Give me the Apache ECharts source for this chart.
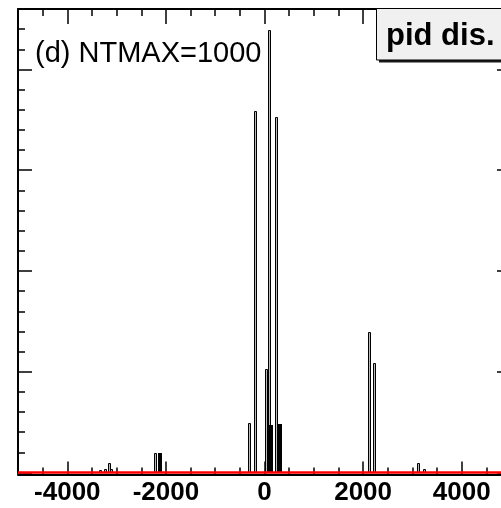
<!DOCTYPE html>
<html><head><meta charset="utf-8">
<script src="https://cdn.jsdelivr.net/npm/echarts@6/dist/echarts.min.js"></script>
<style>html,body{margin:0;padding:0;overflow:hidden;background:#fff;width:501px;height:508px}#c{width:530px;height:508px}</style>
</head><body><div id="c"></div>
<script>
// ---- data ----
const xMin = -5000, xMax = 5000;
const xMajorTicks = [-4000, -2000, 0, 2000, 4000];
const xMinorStep = 500;
const yMin = 0, yMax = 460;
const yMajorStep = 100;
const yMinorStep = 20;
// [pid bin, entries] — isolated bins (drawn as hollow spikes)
const hollowBins = [
  [-3325, 2], [-3223, 3], [-3148, 9], [-3101, 3],
  [-2209, 19],
  [-305, 49], [-190, 359], [41, 103], [105, 439], [237, 353],
  [2122, 139], [2238, 109],
  [3130, 9], [3243, 3]
];
// adjacent filled bins (appear solid)
const solidBins = [[-2117, 19], [146, 47], [315, 48]];
const zeroLine = [[xMin, 0], [xMax, 0]];
const panelLabel = '(d) NTMAX=1000';
const titleText = 'pid dis.';

// ---- chart ----
const chart = echarts.init(document.getElementById('c'), null, {renderer: 'canvas'});
const black = '#000';
const labelFont = {fontFamily: 'Liberation Sans', fontWeight: 'bold', fontSize: 26, color: black};

function xAxisDef(pos, major) {
  const a = {
    type: 'value', min: xMin, max: xMax, position: pos, gridIndex: 0,
    offset: pos === 'bottom' ? 2 : 0,
    splitLine: {show: false},
    axisLine: {show: major, onZero: false, lineStyle: {color: black, width: 2}},
    axisTick: {show: true, inside: true, length: major ? (pos === 'bottom' ? 13 : 15) : 7,
      lineStyle: {color: black, width: 1.5}},
    axisLabel: {show: false}
  };
  if (major) {
    a.axisTick.customValues = xMajorTicks;
    if (pos === 'bottom') {
      a.axisLabel = Object.assign({show: true, customValues: xMajorTicks, margin: 18,
        verticalAlign: 'middle', formatter: v => String(v)}, labelFont);
    }
  } else {
    a.interval = xMinorStep;
  }
  return a;
}
function yAxisDef(pos, major) {
  return {
    type: 'value', min: yMin, max: yMax, position: pos, gridIndex: 0,
    interval: major ? yMajorStep : yMinorStep,
    splitLine: {show: false},
    axisLine: {show: major, onZero: false, lineStyle: {color: black, width: 2}},
    axisTick: {show: true, inside: true, length: major ? 14 : 7, lineStyle: {color: black, width: 1.5}},
    axisLabel: {show: false}
  };
}

function spike(filled) {
  return function (params, api) {
    const x = api.value(0), y = api.value(1);
    const top = api.coord([x, y]);
    const base = api.coord([x, 0]);
    const cx = Math.floor(top[0]);
    const ty = Math.round(top[1]) + 0.5;
    if (filled) {
      return {type: 'rect', shape: {x: cx - 2, y: ty - 0.5, width: 4, height: base[1] - ty + 0.5},
        style: {fill: '#000'}};
    }
    return {type: 'rect', shape: {x: cx - 0.5, y: ty, width: 2, height: base[1] - ty},
      style: {fill: '#bbb', stroke: '#000', lineWidth: 1}};
  };
}

chart.setOption({
  animation: false,
  backgroundColor: '#fff',
  grid: {left: 18, right: 19, top: 9, bottom: 35.5, containLabel: false, outerBoundsMode: 'none'},
  xAxis: [xAxisDef('bottom', true), xAxisDef('bottom', false), xAxisDef('top', true), xAxisDef('top', false)],
  yAxis: [yAxisDef('left', true), yAxisDef('left', false), yAxisDef('right', true), yAxisDef('right', false)],
  series: [
    {type: 'custom', xAxisIndex: 0, yAxisIndex: 0, data: hollowBins, encode: {x: 0, y: 1},
      renderItem: spike(false), z: 3, silent: true},
    {type: 'custom', xAxisIndex: 0, yAxisIndex: 0, data: solidBins, encode: {x: 0, y: 1},
      renderItem: spike(true), z: 3, silent: true},
    {type: 'line', xAxisIndex: 0, yAxisIndex: 0, data: zeroLine, symbol: 'none', silent: true,
      clip: false, z: 10, lineStyle: {color: '#ff0000', width: 2.5}}
  ],
  graphic: [
    {type: 'text', x: 35, y: 54, z: 100,
      style: {text: panelLabel, font: '29px "Liberation Sans"', fill: black, verticalAlign: 'middle'}},
    {type: 'rect', z: 100, shape: {x: 379, y: 11, width: 300, height: 51.5}, style: {fill: '#1a1a1a'}},
    {type: 'rect', z: 101, shape: {x: 376.5, y: 8.5, width: 300, height: 51.5},
      style: {fill: '#f0f0f0', stroke: black, lineWidth: 1}},
    {type: 'text', x: 386, y: 36, z: 102,
      style: {text: titleText, font: 'bold 31px "Liberation Sans"', fill: black, verticalAlign: 'middle'}}
  ]
});
</script>
</body></html>
